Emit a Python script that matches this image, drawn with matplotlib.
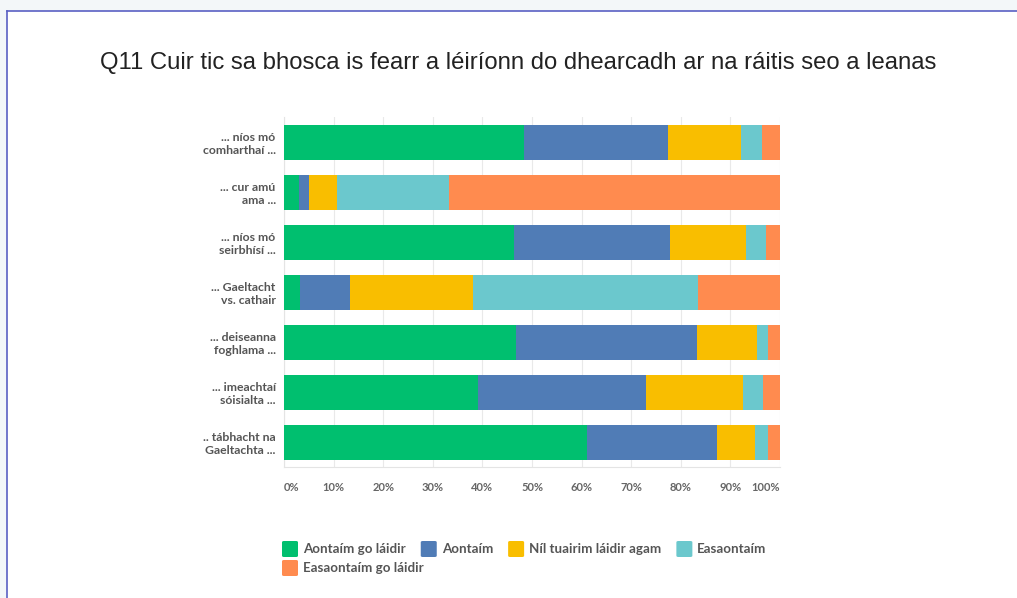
import matplotlib
matplotlib.use("Agg")
import matplotlib.pyplot as plt
from matplotlib.patches import Rectangle, FancyBboxPatch
import numpy as np

title = "Q11 Cuir tic sa bhosca is fearr a léiríonn do dhearcadh ar na ráitis seo a leanas"
categories = [
    "... níos mó\ncomharthaí ...",
    "... cur amú\nama ...",
    "... níos mó\nseirbhísí ...",
    "... Gaeltacht\nvs. cathair",
    "... deiseanna\nfoghlama ...",
    "... imeachtaí\nsóisialta ...",
    ".. tábhacht na\nGaeltachta ...",
]
series_names = ["Aontaím go láidir", "Aontaím", "Níl tuairim láidir agam",
                "Easaontaím", "Easaontaím go láidir"]
aontaim_go_laidir = [48.4, 3.0, 46.4, 3.2, 46.8, 39.1, 61.1]
aontaim = [29.0, 2.0, 31.4, 10.1, 36.5, 33.9, 26.2]
nil_tuairim = [14.7, 5.7, 15.3, 24.8, 12.1, 19.5, 7.7]
easaontaim = [4.3, 22.6, 4.1, 45.4, 2.2, 4.1, 2.6]
easaontaim_go_laidir = [3.6, 66.7, 2.8, 16.5, 2.4, 3.4, 2.4]
xticks = [0, 10, 20, 30, 40, 50, 60, 70, 80, 90, 100]
xticklabels = ["0%", "10%", "20%", "30%", "40%", "50%", "60%", "70%", "80%", "90%", "100%"]

colors = ["#00BF6F", "#507CB6", "#F9BE00", "#6BC8CD", "#FF8B4F"]
series = [aontaim_go_laidir, aontaim, nil_tuairim, easaontaim, easaontaim_go_laidir]

W, H = 1017, 598
fig = plt.figure(figsize=(W / 100, H / 100), dpi=100)
fig.patch.set_facecolor("white")

# slide frame
fig.add_artist(Rectangle((0, 1 - 11 / H), 1, 11 / H, transform=fig.transFigure,
                         facecolor="#f3f7f9", edgecolor="none", zorder=0))
fig.add_artist(Rectangle((0, 0), 7 / W, 1, transform=fig.transFigure,
                         facecolor="#f3f7f9", edgecolor="none", zorder=0))
fig.add_artist(plt.Line2D([7 / W, 1], [1 - 11 / H, 1 - 11 / H], transform=fig.transFigure,
                          color="#5a60c4", lw=1.2))
fig.add_artist(plt.Line2D([7 / W, 7 / W], [0, 1 - 11 / H], transform=fig.transFigure,
                          color="#5a60c4", lw=1.2))

fig.text(518 / W, 1 - 63 / H, title, ha="center", va="center",
         fontsize=17.2, family="Liberation Sans", color="#222222")

ax = fig.add_axes([284 / W, 1 - 467 / H, (780 - 284) / W, (467 - 117) / H])
y = np.arange(len(categories))
left = np.zeros(len(categories))
for vals, col, name in zip(series, colors, series_names):
    ax.barh(y, vals, left=left, height=0.7, color=col, edgecolor="none", label=name, zorder=3)
    left += np.array(vals)

ax.set_xlim(0, 100)
ax.set_ylim(len(categories) - 0.5, -0.5)
ax.set_yticks(y)
ax.set_yticklabels(categories, fontsize=8.8, family="Lato", fontweight="bold",
                   color="#555555", linespacing=1.25)
ax.set_xticks(xticks)
labs = ax.set_xticklabels(xticklabels, fontsize=8, family="Lato", fontweight="bold",
                          color="#666666")
labs[0].set_ha("left")
labs[-1].set_ha("right")
ax.tick_params(axis="both", length=0)
ax.tick_params(axis="x", pad=11)
ax.tick_params(axis="y", pad=6)
ax.grid(axis="x", color="#e9e9e9", lw=0.8, zorder=0)
for s in ["top", "right"]:
    ax.spines[s].set_visible(False)
ax.spines["left"].set_color("#e4e4e4")
ax.spines["bottom"].set_color("#e4e4e4")

# legend (flow layout)
fig.canvas.draw()
renderer = fig.canvas.get_renderer()
rows = [[0, 1, 2, 3], [4]]
row_y = [549, 568]
for r, idxs in enumerate(rows):
    x = 282
    for i in idxs:
        yc = row_y[r]
        p = FancyBboxPatch(((x) / W, 1 - (yc + 8) / H), 16 / W, 16 / H,
                           boxstyle="round,pad=0,rounding_size=0.002",
                           transform=fig.transFigure, facecolor=colors[i], edgecolor="none")
        fig.add_artist(p)
        t = fig.text((x + 21) / W, 1 - yc / H, series_names[i], ha="left", va="center",
                     fontsize=9.6, family="Lato", fontweight="bold", color="#555555")
        bb = t.get_window_extent(renderer)
        x = x + 21 + bb.width + 15

fig.savefig("out.png", dpi=100)
